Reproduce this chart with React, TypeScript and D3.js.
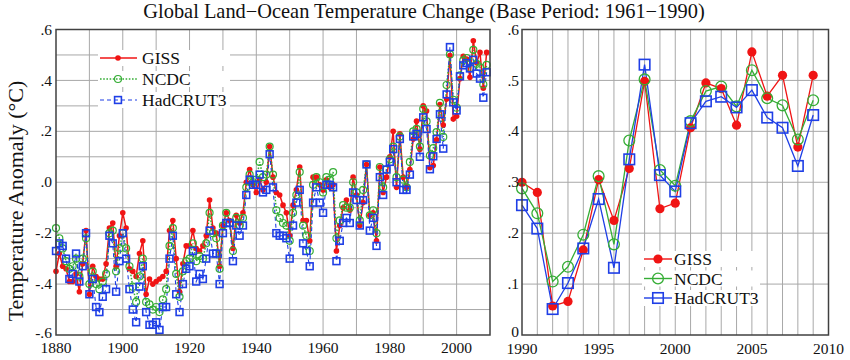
import React from 'react';
import * as d3 from 'd3';

// annual anomalies, base period 1961-1990, years 1880..2009
const startYear = 1880;

const giss = [
  -0.35, -0.28, -0.33, -0.34, -0.39, -0.39, -0.36, -0.43, -0.32, -0.19,
  -0.44, -0.33, -0.37, -0.38, -0.38, -0.32, -0.18, -0.16, -0.33, -0.21,
  -0.12, -0.18, -0.34, -0.35, -0.37, -0.28, -0.23, -0.44, -0.38, -0.40,
  -0.39, -0.38, -0.37, -0.35, -0.19, -0.15, -0.30, -0.43, -0.32, -0.25,
  -0.25, -0.19, -0.26, -0.27, -0.25, -0.21, -0.07, -0.18, -0.20, -0.33,
  -0.17, -0.12, -0.15, -0.26, -0.13, -0.16, -0.12, 0.00, 0.05, -0.01,
  -0.04, 0.01, -0.03, 0.00, 0.14, 0.02, -0.04, -0.05, -0.09, -0.12,
  -0.21, -0.09, -0.03, 0.06, -0.15, -0.15, -0.23, 0.02, 0.02, -0.01,
  -0.03, 0.01, -0.02, -0.01, -0.27, -0.17, -0.10, -0.07, -0.11, 0.02,
  -0.05, -0.17, -0.08, 0.07, -0.13, -0.12, -0.23, 0.06, -0.04, 0.02,
  0.10, 0.20, -0.02, 0.19, 0.02, -0.02, 0.05, 0.17, 0.24, 0.13,
  0.30, 0.28, 0.057, 0.066, 0.167, 0.305, 0.225, 0.327, 0.498, 0.248,
  0.259, 0.407, 0.495, 0.484, 0.412, 0.556, 0.469, 0.51, 0.369, 0.51,
];

const ncdc = [
  -0.18, -0.22, -0.26, -0.31, -0.34, -0.33, -0.30, -0.37, -0.30, -0.22,
  -0.40, -0.35, -0.40, -0.42, -0.39, -0.36, -0.20, -0.19, -0.35, -0.26,
  -0.20, -0.26, -0.33, -0.41, -0.47, -0.37, -0.30, -0.47, -0.48, -0.50,
  -0.49, -0.51, -0.46, -0.42, -0.25, -0.18, -0.36, -0.45, -0.35, -0.31,
  -0.30, -0.24, -0.31, -0.29, -0.30, -0.24, -0.12, -0.20, -0.22, -0.34,
  -0.17, -0.12, -0.16, -0.27, -0.14, -0.17, -0.14, -0.02, 0.03, 0.00,
  0.01, 0.08, 0.02, 0.03, 0.14, 0.03, -0.11, -0.14, -0.16, -0.17,
  -0.23, -0.12, -0.05, 0.04, -0.17, -0.21, -0.27, -0.01, 0.02, 0.00,
  -0.04, 0.02, 0.01, 0.04, -0.22, -0.15, -0.09, -0.10, -0.10, 0.00,
  -0.04, -0.15, -0.03, 0.07, -0.13, -0.11, -0.20, 0.06, -0.02, 0.05,
  0.09, 0.14, 0.02, 0.18, 0.01, -0.02, 0.08, 0.20, 0.21, 0.14,
  0.288, 0.239, 0.105, 0.134, 0.197, 0.312, 0.178, 0.382, 0.502, 0.324,
  0.293, 0.42, 0.479, 0.488, 0.449, 0.52, 0.465, 0.451, 0.384, 0.461,
];

const hadcrut3 = [
  -0.27, -0.24, -0.25, -0.30, -0.38, -0.36, -0.28, -0.39, -0.33, -0.20,
  -0.44, -0.38, -0.49, -0.51, -0.45, -0.42, -0.21, -0.24, -0.43, -0.31,
  -0.20, -0.30, -0.42, -0.50, -0.55, -0.41, -0.33, -0.51, -0.56, -0.56,
  -0.55, -0.58, -0.49, -0.49, -0.30, -0.21, -0.44, -0.51, -0.40, -0.34,
  -0.33, -0.27, -0.39, -0.36, -0.38, -0.30, -0.19, -0.28, -0.28, -0.40,
  -0.20, -0.16, -0.16, -0.31, -0.17, -0.21, -0.17, -0.05, 0.01, -0.01,
  -0.01, 0.03, -0.04, -0.03, 0.11, -0.02, -0.20, -0.21, -0.21, -0.22,
  -0.30, -0.17, -0.08, -0.03, -0.24, -0.27, -0.33, -0.08, -0.02, -0.08,
  -0.12, -0.01, -0.01, -0.02, -0.31, -0.23, -0.16, -0.14, -0.16, -0.04,
  -0.07, -0.17, -0.07, 0.07, -0.19, -0.14, -0.25, 0.02, -0.05, 0.05,
  0.08, 0.13, 0.00, 0.17, -0.03, -0.03, 0.03, 0.18, 0.19, 0.10,
  0.255, 0.209, 0.051, 0.102, 0.17, 0.267, 0.132, 0.345, 0.531, 0.314,
  0.282, 0.416, 0.459, 0.468, 0.447, 0.481, 0.427, 0.407, 0.332, 0.432,
];

const seriesNames = ['GISS', 'NCDC', 'HadCRUT3'];
const colors = ['#f01414', '#35ad35', '#1f3fe6'];

const leftXTicks = [1880, 1900, 1920, 1940, 1960, 1980, 2000];
const leftYTicks = [-0.6, -0.4, -0.2, 0, 0.2, 0.4, 0.6];
const leftYLabels = ['-.6', '-.4', '-.2', '.0', '.2', '.4', '.6'];
const rightXTicks = [1990, 1995, 2000, 2005, 2010];
const rightYTicks = [0, 0.1, 0.2, 0.3, 0.4, 0.5, 0.6];
const rightYLabels = ['0', '.1', '.2', '.3', '.4', '.5', '.6'];

const title = 'Global Land\u2212Ocean Temperature Change (Base Period: 1961\u22121990)';
const yTitle = 'Temperature Anomaly (\u00B0C)';

const font = '"Liberation Serif", "Times New Roman", serif';
const gridColor = '#a8a8a8';
const frameColor = '#404040';

type Pt = { year: number; v: number };

const toPoints = (arr: number[]): Pt[] => arr.map((v, i) => ({ year: startYear + i, v }));

const Marker = ({ kind, x, y, big, color }: { kind: number; x: number; y: number; big: boolean; color: string }) => {
  if (kind === 0) {
    return <circle cx={x} cy={y} r={big ? 4.6 : 2.8} fill={color} />;
  }
  if (kind === 1) {
    return <circle cx={x} cy={y} r={big ? 5.4 : 3.5} fill="none" stroke={color} strokeWidth={big ? 1.3 : 1.2} />;
  }
  const s = big ? 10.5 : 6.8;
  return <rect x={x - s / 2} y={y - s / 2} width={s} height={s} fill="none" stroke={color} strokeWidth={big ? 1.6 : 1.6} />;
};

const App = () => {
  const all = [giss, ncdc, hadcrut3].map(toPoints);

  // left panel scales
  const lx = d3.scaleLinear().domain([1880, 2010]).range([56, 490]);
  const ly = d3.scaleLinear().domain([-0.6, 0.6]).range([335, 29.5]);
  // right panel scales
  const rx = d3.scaleLinear().domain([1990, 2010]).range([522, 828.5]);
  const ry = d3.scaleLinear().domain([0, 0.6]).range([335, 29.5]);

  const leftDash = [null, '1.6,1.6', '4,3'];
  const leftWidth = [1.5, 1.5, 1.1];

  const lineL = d3.line<Pt>().x(d => lx(d.year)).y(d => ly(d.v));
  const lineR = d3.line<Pt>().x(d => rx(d.year)).y(d => ry(d.v));

  const recent = all.map(s => s.filter(d => d.year >= 1990));

  const legend = (x0: number, y0: number, dy: number, big: boolean, dashed: boolean, w: number) => (
    <g>
      {seriesNames.map((name, i) => (
        <g key={name}>
          <rect x={x0 - 2} y={y0 + i * dy - 8} width={w} height={16} fill="white" />
          <line
            x1={x0}
            x2={x0 + (big ? 28 : 37)}
            y1={y0 + i * dy}
            y2={y0 + i * dy}
            stroke={colors[i]}
            strokeWidth={dashed ? leftWidth[i] : 1.4}
            strokeDasharray={dashed ? leftDash[i] || undefined : undefined}
          />
          <Marker kind={i} x={x0 + (big ? 14 : 18)} y={y0 + i * dy} big={big} color={colors[i]} />
          <text x={x0 + (big ? 30 : 42)} y={y0 + i * dy} dy="0.35em" fontSize={17.5} fontFamily={font} fill="#111">
            {name}
          </text>
        </g>
      ))}
    </g>
  );

  return (
    <svg width={850} height={360} style={{ position: 'absolute', left: 0, top: 0, background: 'white' }}>
      <rect width={850} height={360} fill="white" />
      <text x={424} y={18} textAnchor="middle" fontSize={20.4} fontFamily={font} fill="#111">
        {title}
      </text>

      {/* left panel */}
      <g>
        {d3.range(1890, 2010, 10).map(t => (
          <line key={'lgx' + t} x1={lx(t)} x2={lx(t)} y1={ly(0.6)} y2={ly(-0.6)} stroke={gridColor} strokeWidth={1} />
        ))}
        {d3.range(-5, 6).map(k => (
          <line key={'lgy' + k} x1={lx(1880)} x2={lx(2010)} y1={ly(k / 10)} y2={ly(k / 10)} stroke={gridColor} strokeWidth={1} />
        ))}
        {all.map((s, i) => (
          <path
            key={'ll' + i}
            d={lineL(s) || ''}
            fill="none"
            stroke={colors[i]}
            strokeWidth={leftWidth[i]}
            strokeDasharray={leftDash[i] || undefined}
          />
        ))}
        {all.map((s, i) => (
          <g key={'lm' + i}>
            {s.map(d => (
              <Marker key={d.year} kind={i} x={lx(d.year)} y={ly(d.v)} big={false} color={colors[i]} />
            ))}
          </g>
        ))}
        {legend(100, 58, 21, false, true, 132)}
        <rect x={lx(1880)} y={ly(0.6)} width={lx(2010) - lx(1880)} height={ly(-0.6) - ly(0.6)} fill="none" stroke={frameColor} strokeWidth={1.5} />
        {leftYTicks.map((t, i) => (
          <text key={'lyt' + t} x={52} y={ly(t) - (i === 0 ? 2 : 0)} dy="0.33em" textAnchor="end" fontSize={15.5} fontFamily={font} fill="#111">
            {leftYLabels[i]}
          </text>
        ))}
        {leftXTicks.map(t => (
          <text key={'lxt' + t} x={lx(t)} y={353} textAnchor="middle" fontSize={15.5} fontFamily={font} fill="#111">
            {t}
          </text>
        ))}
        <text
          transform={`translate(23,${201}) rotate(-90)`}
          textAnchor="middle"
          fontSize={22}
          fontFamily={font}
          fill="#111"
        >
          {yTitle}
        </text>
      </g>

      {/* right panel */}
      <g>
        {d3.range(1991, 2010).map(t => (
          <line key={'rgx' + t} x1={rx(t)} x2={rx(t)} y1={ry(0.6)} y2={ry(0)} stroke={gridColor} strokeWidth={1} />
        ))}
        {d3.range(1, 6).map(k => (
          <line key={'rgy' + k} x1={rx(1990)} x2={rx(2010)} y1={ry(k / 10)} y2={ry(k / 10)} stroke={gridColor} strokeWidth={1} />
        ))}
        {recent.map((s, i) => (
          <path key={'rl' + i} d={lineR(s) || ''} fill="none" stroke={colors[i]} strokeWidth={1.3} />
        ))}
        {recent.map((s, i) => (
          <g key={'rm' + i}>
            {s.map(d => (
              <Marker key={d.year} kind={i} x={rx(d.year)} y={ry(d.v)} big={true} color={colors[i]} />
            ))}
          </g>
        ))}
        {legend(644, 259, 19.5, true, false, 118)}
        <rect x={rx(1990)} y={ry(0.6)} width={rx(2010) - rx(1990)} height={ry(0) - ry(0.6)} fill="none" stroke={frameColor} strokeWidth={1.5} />
        {rightYTicks.map((t, i) => (
          <text key={'ryt' + t} x={519} y={ry(t) - (i === 0 ? 3 : 0)} dy="0.33em" textAnchor="end" fontSize={15.5} fontFamily={font} fill="#111">
            {rightYLabels[i]}
          </text>
        ))}
        {rightXTicks.map(t => (
          <text key={'rxt' + t} x={rx(t)} y={354} textAnchor="middle" fontSize={15.5} fontFamily={font} fill="#111">
            {t}
          </text>
        ))}
      </g>
    </svg>
  );
};

export default App;
